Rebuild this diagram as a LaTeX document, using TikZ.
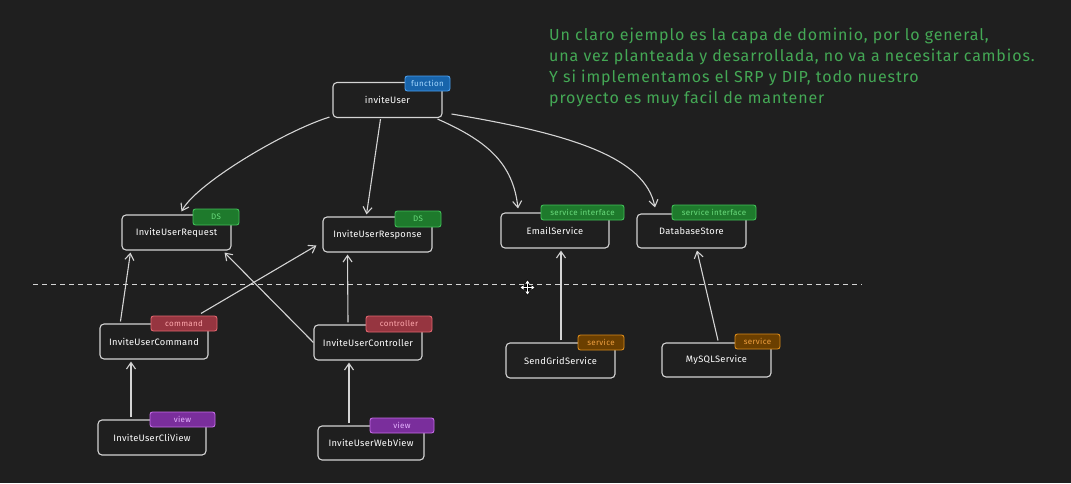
\documentclass[tikz,border=0pt]{standalone}
\usepackage{fontspec}
\setmainfont{Fira Sans}
\usetikzlibrary{arrows.meta,calc}
\definecolor{bg}{HTML}{1F1F1F}
\definecolor{boxline}{HTML}{D4D4D4}
\definecolor{note}{HTML}{44A855}
\definecolor{blueF}{HTML}{1864AB}\definecolor{blueD}{HTML}{4A9EED}\definecolor{blueT}{HTML}{A5D8FF}
\definecolor{greenF}{HTML}{1E7A2C}\definecolor{greenD}{HTML}{40C057}\definecolor{greenT}{HTML}{69DB7C}
\definecolor{redF}{HTML}{963540}\definecolor{redD}{HTML}{E0666F}\definecolor{redT}{HTML}{FFA8AD}
\definecolor{brownF}{HTML}{6B3F00}\definecolor{brownD}{HTML}{D98A1A}\definecolor{brownT}{HTML}{F0A040}
\definecolor{purpF}{HTML}{7A2E9C}\definecolor{purpD}{HTML}{C46BE6}\definecolor{purpT}{HTML}{E5B3FF}
\tikzset{
  cls/.style={draw=boxline, line width=1.1pt, rounded corners=4pt, fill=bg, text=white,
    minimum width=109pt, minimum height=35pt, inner sep=0pt,
    font=\fontsize{9.3}{11}\selectfont\addfontfeatures{LetterSpace=3}},
  tag/.style={rounded corners=2.5pt, line width=0.9pt, inner sep=0pt, minimum height=15pt,
    font=\fontsize{8}{9}\selectfont\addfontfeatures{LetterSpace=4}},
  tagblue/.style={tag, fill=blueF, draw=blueD, text=blueT},
  taggreen/.style={tag, fill=greenF, draw=greenD, text=greenT},
  tagred/.style={tag, fill=redF, draw=redD, text=redT},
  tagbrown/.style={tag, fill=brownF, draw=brownD, text=brownT},
  tagpurp/.style={tag, fill=purpF, draw=purpD, text=purpT},
  link/.style={draw=boxline, line width=1.1pt, -{Straight Barb[length=6.5pt,width=9pt]}},
  sep/.style={draw=boxline, line width=1pt, dash pattern=on 5pt off 4pt},
}
\begin{document}
\begin{tikzpicture}[x=1pt,y=-1pt]
\fill[bg] (0,0) rectangle (1071,483);
\useasboundingbox (0,0) rectangle (1071,483);

% note
\node[text=note, anchor=north west, align=left, inner sep=0pt,
  font=\fontsize{16}{21}\selectfont\addfontfeatures{LetterSpace=5.6}] (txt) at (549,28)
  {Un claro ejemplo es la capa de dominio, por lo general,\\
   una vez planteada y desarrollada, no va a necesitar cambios.\\
   Y si implementamos el SRP y DIP, todo nuestro\\
   proyecto es muy facil de mantener};

% separator
\coordinate (sepA) at (33,284);
\coordinate (sepB) at (862,284);
\draw[sep] (sepA) -- (sepB);

% boxes
\node[cls] (iu)   at (387.5,100)   {inviteUser};
\node[cls] (req)  at (176.5,232.5) {InviteUserRequest};
\node[cls] (resp) at (377.5,234.5) {InviteUserResponse};
\node[cls, minimum width=108pt] (es) at (555,230.5) {EmailService};
\node[cls, minimum height=34pt] (db) at (691.5,231) {DatabaseStore};
\node[cls, minimum width=108pt] (cmd) at (154,341.5) {InviteUserCommand};
\node[cls, minimum width=108pt] (ctl) at (368,342.5) {InviteUserController};
\node[cls] (sg) at (560.5,360.5) {SendGridService};
\node[cls, minimum height=34pt] (my) at (716.5,360) {MySQLService};
\node[cls, minimum width=108pt] (cli) at (152,437.5) {InviteUserCliView};
\node[cls, minimum width=106pt, minimum height=34pt] (web) at (371,443) {InviteUserWebView};

% tags
\node[tagblue, minimum width=45pt] (t1) at (427.5,83.5) {function};
\node[taggreen, minimum width=46pt, minimum height=16pt] (t2) at (216,217) {DS};
\node[taggreen, minimum width=46pt, minimum height=16pt] (t3) at (418,219) {DS};
\node[taggreen, minimum width=83pt] (t4) at (582.5,212.5) {service interface};
\node[taggreen, minimum width=84pt] (t5) at (714,212.5) {service interface};
\node[tagred, minimum width=66pt] (t6) at (184,323.5) {command};
\node[tagred, minimum width=66pt, minimum height=16pt] (t7) at (399,324) {controller};
\node[tagbrown, minimum width=46pt] (t8) at (601,342.5) {service};
\node[tagbrown, minimum width=45pt] (t9) at (757.5,341.5) {service};
\node[tagpurp, minimum width=65pt] (t10) at (182.5,419.5) {view};
\node[tagpurp, minimum width=64pt] (t11) at (402,425.5) {view};

% connectors
\draw[link] ($(iu.south west)+(-3,-1)$) .. controls +(-45,14) and +(15,-28) .. ($(req.north)+(5,-3)$);
\draw[link] ($(iu.south)+(-7,1)$) -- ($(resp.north)+(-11,-2)$);
\draw[link] ($(iu.south east)+(-5,1)$) .. controls +(50,22) and +(-5,-45) .. ($(es.north)+(-37,-4)$);
\draw[link] ($(iu.east)+(9,14)$) .. controls +(120,20) and +(-10,-50) .. ($(db.north)+(-36.5,-6)$);

\draw[link] ($(cmd.north west)+(21,-2)$) -- ($(req.south west)+(9,2)$);
\draw[link] ($(cmd.north)+(47,-10)$) -- ($(resp.west)+(-6,11)$);
\draw[link] (ctl.west) -- ($(req.south east)+(-7,2)$);
\draw[link] ($(ctl.north)+(-20,-2)$) -- ($(resp.south)+(-30,2)$);
\draw[link] ($(sg.north)+(0.5,-2)$) -- ($(es.south)+(6,2)$);
\draw[link] ($(my.north)+(1.5,-2)$) -- ($(db.south)+(5.5,2)$);
\draw[link] ($(cli.north)+(-21,-2)$) -- ($(cmd.south)+(-23,2)$);
\draw[link] ($(web.north)+(-22,-2)$) -- ($(ctl.south)+(-19,2)$);

% move cursor
\coordinate (cur) at (527.5,287.5);
\draw[black, line width=2.6pt, {Triangle[length=3.5pt,width=5pt]}-{Triangle[length=3.5pt,width=5pt]}] ($(cur)+(-8,0)$) -- ($(cur)+(8,0)$);
\draw[black, line width=2.6pt, {Triangle[length=3.5pt,width=5pt]}-{Triangle[length=3.5pt,width=5pt]}] ($(cur)+(0,-8)$) -- ($(cur)+(0,8)$);
\draw[white, line width=1.2pt, {Triangle[length=3pt,width=4pt]}-{Triangle[length=3pt,width=4pt]}] ($(cur)+(-7,0)$) -- ($(cur)+(7,0)$);
\draw[white, line width=1.2pt, {Triangle[length=3pt,width=4pt]}-{Triangle[length=3pt,width=4pt]}] ($(cur)+(0,-7)$) -- ($(cur)+(0,7)$);
\end{tikzpicture}
\end{document}
